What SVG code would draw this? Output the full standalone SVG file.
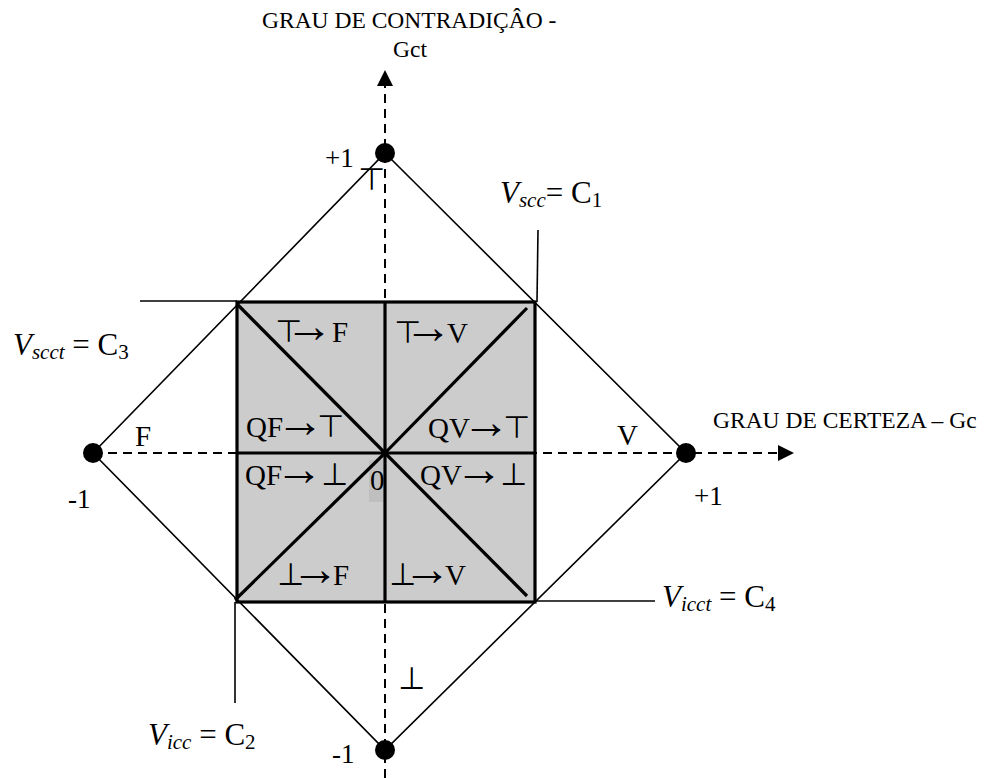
<svg xmlns="http://www.w3.org/2000/svg" width="993" height="778" viewBox="0 0 993 778">
<defs>
<style>
.t{font-family:"Liberation Serif","Times New Roman",serif;fill:#000}
.cap{font-size:23.5px}
.num{font-size:27px}
.lab{font-size:29px}
.sym{font-family:"DejaVu Sans","Liberation Sans",sans-serif;font-size:31px}
.ar{font-size:48px}
.vl{font-size:31px}
.sub{font-size:21px}
.it{font-style:italic}
.thin{stroke:#000;stroke-width:1.6;fill:none}
.thick{stroke:#000;stroke-width:3.2;fill:none}
.dash{stroke:#000;stroke-width:2;stroke-dasharray:9 6;fill:none}
</style>
<marker id="ah" viewBox="0 0 10 10" refX="0" refY="5" markerWidth="16" markerHeight="16" markerUnits="userSpaceOnUse" orient="auto">
<path d="M0,0 L10,5 L0,10 z" fill="#000"/>
</marker>
</defs>
<rect width="993" height="778" fill="#fff"/>

<g id="regions">
<rect x="237" y="302" width="298" height="300" fill="#cccccc"/>
<rect x="369" y="460" width="14" height="42" fill="#bfbfbf"/>
</g>

<g id="connectors">
<polygon class="thin" points="385,153 686,453 385,750 93,453"/>
<line class="dash" x1="93" y1="453" x2="778" y2="453" marker-end="url(#ah)"/>
<line class="dash" x1="385" y1="778" x2="385" y2="86" marker-end="url(#ah)"/>
<rect class="thick" x="237" y="302" width="298" height="300"/>
<line class="thick" x1="385" y1="302" x2="385" y2="602"/>
<line class="thick" x1="237" y1="453" x2="535" y2="453"/>
<line class="thick" x1="238" y1="305" x2="385" y2="453"/>
<line class="thick" x1="527" y1="308" x2="385" y2="453"/>
<line class="thick" x1="235" y1="600" x2="385" y2="453"/>
<line class="thick" x1="527" y1="596" x2="385" y2="453"/>
<line class="thin" stroke-width="2" x1="140" y1="301" x2="237" y2="301"/>
<line class="thin" stroke-width="2" x1="538" y1="230" x2="537" y2="302"/>
<line class="thin" stroke-width="2" x1="535" y1="601" x2="655" y2="601"/>
<line class="thin" stroke-width="2" x1="235" y1="602" x2="235" y2="703"/>
</g>

<g id="points">
<circle cx="385" cy="153" r="10"/>
<circle cx="686" cy="453" r="10"/>
<circle cx="385" cy="750" r="10"/>
<circle cx="93" cy="453" r="10"/>
</g>

<g id="axis-labels">
<text class="t cap" x="262" y="28">GRAU DE CONTRADIÇÂO -</text>
<text class="t cap" x="393" y="57">Gct</text>
<text class="t cap" x="713" y="428">GRAU DE CERTEZA – Gc</text>
<text class="t num" x="325" y="167">+1</text>
<text class="t num" x="332" y="763">-1</text>
<text class="t num" x="68" y="508">-1</text>
<text class="t num" x="694" y="505">+1</text>
<text class="t lab" x="135" y="446">F</text>
<text class="t lab" x="617" y="445">V</text>
<text class="t sym" x="358" y="190">⊤</text>
<text class="t sym" x="398" y="689">⊥</text>
</g>

<g id="region-labels">
<text class="t lab" y="342"><tspan class="sym" x="275">⊤</tspan><tspan class="ar" x="285">→</tspan><tspan x="332">F</tspan></text>
<text class="t lab" y="343"><tspan class="sym" x="394">⊤</tspan><tspan class="ar" x="404">→</tspan><tspan x="447">V</tspan></text>
<text class="t lab" y="437"><tspan x="246">QF</tspan><tspan class="ar" x="276">→</tspan><tspan class="sym" x="317">⊤</tspan></text>
<text class="t lab" y="438"><tspan x="428">QV</tspan><tspan class="ar" x="462">→</tspan><tspan class="sym" x="503">⊤</tspan></text>
<text class="t lab" y="485"><tspan x="245">QF</tspan><tspan class="ar" x="275">→ </tspan><tspan class="sym" x="321">⊥</tspan></text>
<text class="t lab" y="485"><tspan x="420">QV</tspan><tspan class="ar" x="455">→ </tspan><tspan class="sym" x="500">⊥</tspan></text>
<text class="t lab" y="585"><tspan class="sym" x="277">⊥</tspan><tspan class="ar" x="291">→</tspan><tspan x="333">F</tspan></text>
<text class="t lab" y="585"><tspan class="sym" x="389">⊥</tspan><tspan class="ar" x="403">→</tspan><tspan x="445">V</tspan></text>
<text class="t lab" x="370" y="490" fill="#333">0</text>
</g>

<g id="constants">
<text class="t vl" x="13" y="355"><tspan class="it">V</tspan><tspan class="it sub" dy="4">scct</tspan><tspan dy="-4"> = C</tspan><tspan class="sub" dy="4">3</tspan></text>
<text class="t vl" x="500" y="203"><tspan class="it">V</tspan><tspan class="it sub" dy="4">scc</tspan><tspan dy="-4">= C</tspan><tspan class="sub" dy="4">1</tspan></text>
<text class="t vl" x="662" y="607"><tspan class="it">V</tspan><tspan class="it sub" dy="4">icct</tspan><tspan dy="-4"> = C</tspan><tspan class="sub" dy="4">4</tspan></text>
<text class="t vl" x="148" y="745"><tspan class="it">V</tspan><tspan class="it sub" dy="4">icc</tspan><tspan dy="-4"> = C</tspan><tspan class="sub" dy="4">2</tspan></text>
</g>
</svg>
